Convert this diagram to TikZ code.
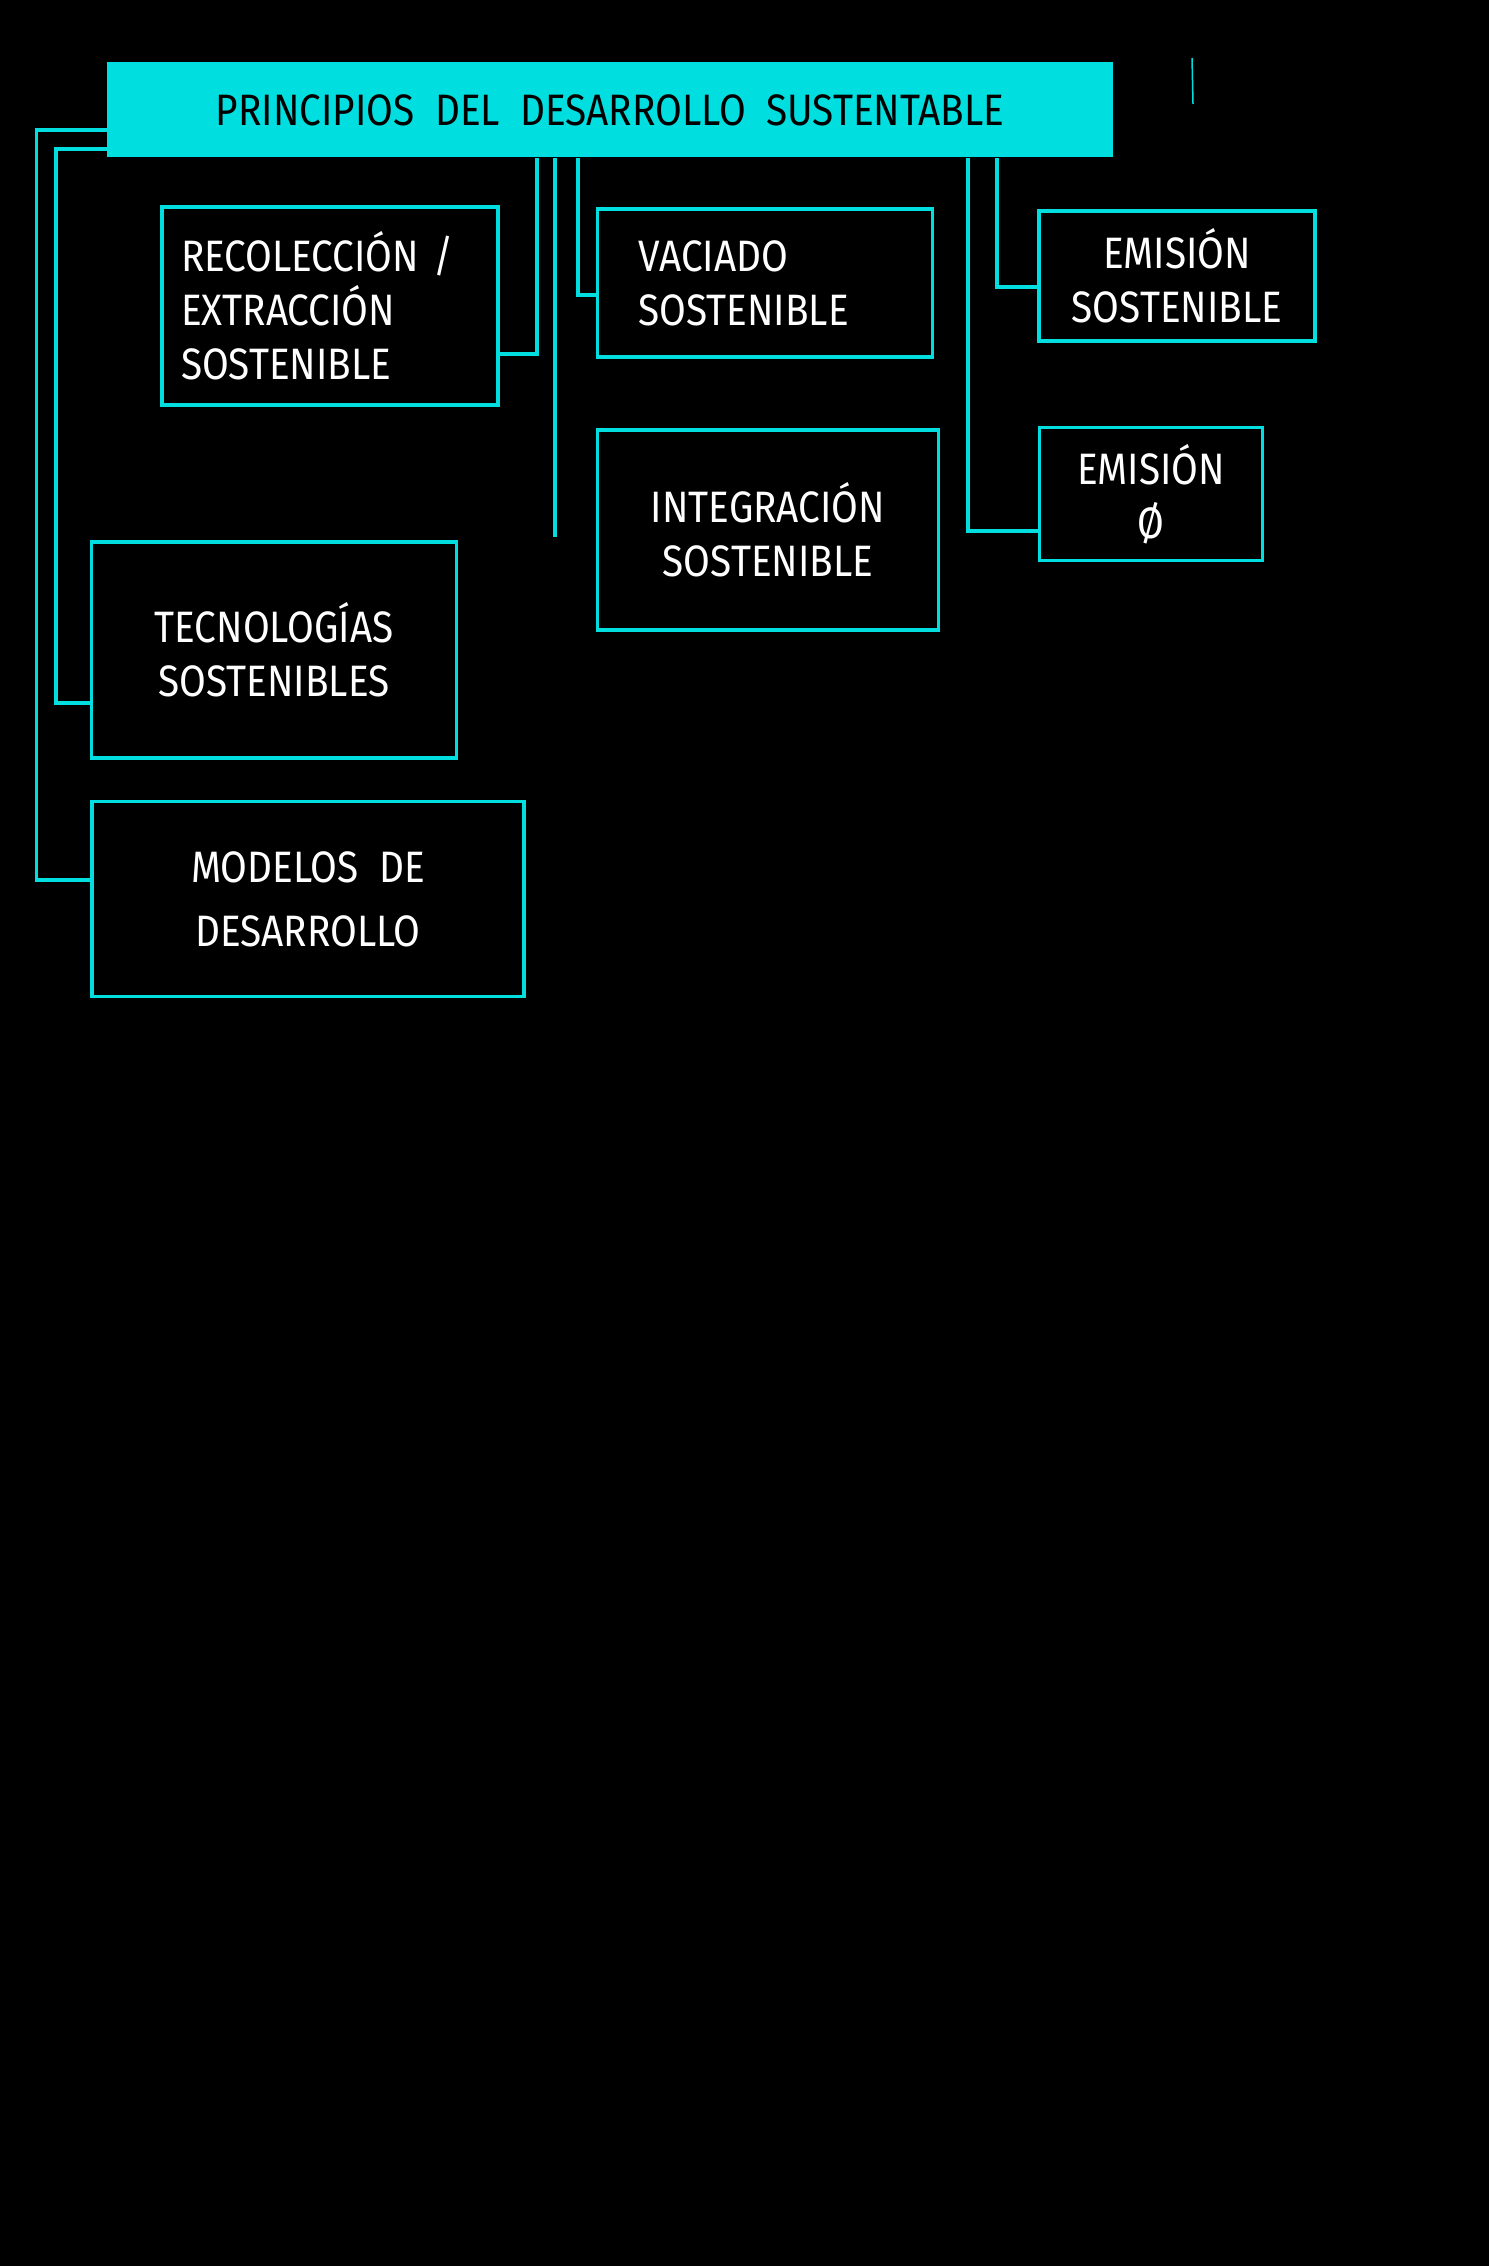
\documentclass[tikz,border=0pt]{standalone}
\usepackage{fontspec}
\setmainfont{Fira Sans}[FakeStretch=0.88]
\usepackage{tikz}
\usepackage{xcolor}
\usetikzlibrary{positioning,calc}
\definecolor{aqua}{RGB}{0,222,224}

\begin{document}
\begin{tikzpicture}[x=1pt, y=-1pt, font=\fontsize{44}{54}\selectfont,
    box/.style={draw=aqua, line width=3.5pt, text=white, align=center, inner sep=0pt},
    link/.style={draw=aqua, line width=3.5pt}]
            \useasboundingbox (0,0) rectangle (1488,2266);
            \fill[black] (-4,-4) rectangle (1492,2270);
            \node[fill=aqua, minimum width=1006pt, minimum height=95pt, inner sep=0pt] (title) at (610,110)
                {PRINCIPIOS\ \ DEL\ \ DESARROLLO\ \ SUSTENTABLE};
            \draw[aqua, line width=1.5pt] (1192,58)--(1193,104);
            \node[box, minimum height=198pt, align=left, inner xsep=19pt, text width=298pt] (recol) at (330,306)
                {RECOLECCIÓN /\\EXTRACCIÓN\\SOSTENIBLE\\[-12pt]};
            \node[box, minimum height=148pt, align=left, inner xsep=41pt, text width=253pt] (vaciado) at (765,283)
                {VACIADO\\SOSTENIBLE};
            \node[box, minimum width=341pt, minimum height=200pt] (integ) at (768,530)
                {INTEGRACIÓN\\SOSTENIBLE};
            \node[box, minimum width=276pt, minimum height=130pt] (emisos) at (1177,276)
                {EMISIÓN\\SOSTENIBLE};
            \node[box, minimum width=223pt, minimum height=133pt] (emicero) at (1151,494)
                {EMISIÓN\\Ø};
            \node[box, minimum width=365pt, minimum height=216pt] (tecno) at (274,650)
                {TECNOLOGÍAS\\SOSTENIBLES};
            \node[box, minimum width=432pt, minimum height=195pt] (modelos) at (308,899)
                {MODELOS\ \ DE\\[10pt]DESARROLLO};
            \coordinate (tail) at (555,537);
            \draw[link] ([yshift=-20pt]title.west) -| ([xshift=-54pt,yshift=19pt]modelos.west) -- ([yshift=19pt]modelos.west);
            \draw[link] ([yshift=-39pt]title.west) -| ([xshift=-34pt,yshift=-53pt]tecno.west) -- ([yshift=-53pt]tecno.west);
            \draw[link] ([xshift=-73pt]title.south) |- ([yshift=-48pt]recol.east);
            \draw[link] (title.south -| tail) -- (tail);
            \draw[link] ([xshift=-32pt]title.south) |- ([yshift=-12pt]vaciado.west);
            \draw[link] ([xshift=358pt]title.south) |- ([yshift=-37pt]emicero.west);
            \draw[link] ([xshift=387pt]title.south) |- ([yshift=-11pt]emisos.west);
        \end{tikzpicture}
\end{document}
